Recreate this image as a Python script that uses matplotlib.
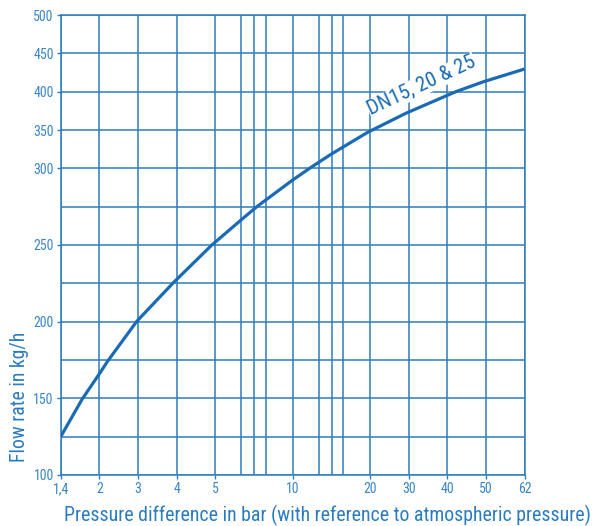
import numpy as np
import matplotlib
matplotlib.use("Agg")
import matplotlib.pyplot as plt
from matplotlib import font_manager as fm
from matplotlib.ticker import FixedLocator, FixedFormatter, NullFormatter

# ---- data ----
pressure = [1.4, 1.735, 2, 2.216, 2.97, 3.917, 4.905, 6.66, 7.68, 8.28, 10, 12.46, 14.9,
            19.7, 29.3, 42.2, 49.3, 62]
flow = [125, 149.6, 166.0, 174.3, 200.3, 225.5, 249.9, 266.3, 275.0, 279.5, 292.4, 301.9,
        318.0, 347.0, 371.9, 400, 412.9, 429.6]
curve_label = "DN15, 20 & 25"

x_tick_values = [1.4, 2, 3, 4, 5, 10, 20, 30, 40, 50, 62]
x_tick_labels = ["1,4", "2", "3", "4", "5", "10", "20", "30", "40", "50", "62"]
x_minor_values = [6.67, 7.5, 8.3, 13.4, 15.1, 16.5]
y_tick_values = [100, 150, 200, 250, 300, 350, 400, 450, 500]
y_tick_labels = [str(v) for v in y_tick_values]
y_minor_values = [125, 175, 225, 275]

x_label = "Pressure difference in bar (with reference to atmospheric pressure)"
y_label = "Flow rate in kg/h"

# scale break-points (the chart's own piecewise axes)
x_scale_vals = [1.4, 2, 3, 4, 5, 10, 20, 30, 40, 50, 62]
x_scale_units = [0, 1, 2, 3, 4, 6, 8, 9, 10, 11, 12]
y_scale_vals = [100, 300, 500]
y_scale_units = [0, 8, 12]

# ---- fonts ----
avail = {f.name for f in fm.fontManager.ttflist}
font = "DejaVu Sans"
for c in ["Roboto Condensed", "Liberation Sans Narrow", "Archivo Narrow"]:
    if c in avail:
        font = c
        break
plt.rcParams["font.family"] = [font, "DejaVu Sans"]

grid_c = "#2d7cc0"
curve_c = "#1a6bb4"
tick_c = "#3a86c8"
label_c = "#2b7bc0"

def fx(x):
    return np.interp(np.asarray(x, float), x_scale_vals, x_scale_units)
def ix(u):
    return np.interp(np.asarray(u, float), x_scale_units, x_scale_vals)
def fy(y):
    return np.interp(np.asarray(y, float), y_scale_vals, y_scale_units)
def iy(u):
    return np.interp(np.asarray(u, float), y_scale_units, y_scale_vals)

fig = plt.figure(figsize=(5.95, 5.26), dpi=100)
ax = fig.add_axes([60.7 / 595, 51 / 526, 464 / 595, 460 / 526])
ax.set_xscale("function", functions=(fx, ix))
ax.set_yscale("function", functions=(fy, iy))
ax.set_xlim(1.4, 62)
ax.set_ylim(100, 500)

ax.xaxis.set_major_locator(FixedLocator(x_tick_values))
ax.xaxis.set_major_formatter(FixedFormatter(x_tick_labels))
ax.xaxis.set_minor_locator(FixedLocator(x_minor_values))
ax.xaxis.set_minor_formatter(NullFormatter())
ax.yaxis.set_major_locator(FixedLocator(y_tick_values))
ax.yaxis.set_major_formatter(FixedFormatter(y_tick_labels))
ax.yaxis.set_minor_locator(FixedLocator(y_minor_values))
ax.yaxis.set_minor_formatter(NullFormatter())

ax.grid(True, which="both", color=grid_c, linewidth=1.1, zorder=1)
ax.set_axisbelow(True)
for s in ax.spines.values():
    s.set_color(grid_c)
    s.set_linewidth(1.1)
ax.tick_params(which="major", length=3, width=1.0, color=grid_c, labelcolor=tick_c,
               labelsize=10, pad=2)
ax.tick_params(which="minor", length=0)

ax.plot(pressure, flow, color=curve_c, linewidth=2.3, zorder=5, solid_capstyle="butt")

t_curve = ax.text(33.4, 408, curve_label, rotation=0, ha="center", va="center",
                  fontsize=14, color=curve_c, zorder=4,
                  bbox=dict(facecolor="white", edgecolor="none", pad=0.3))
t_x = fig.text(327.5 / 595, 1 - 515 / 526, x_label, ha="center", va="center", fontsize=15,
               color=label_c)
t_y = fig.text(20 / 595, 1 - 397 / 526, y_label, ha="center", va="center", rotation=0,
               fontsize=15, color=label_c)

# fit label sizes to the reference's text extents (pixels)
fig.canvas.draw()
r = fig.canvas.get_renderer()
for t, target in [(t_x, 528.0), (t_y, 131.0), (t_curve, 118.0)]:
    w = t.get_window_extent(r).width
    t.set_fontsize(t.get_fontsize() * target / w)
t_y.set_rotation(90)
t_curve.set_rotation(25)
t_curve.set_rotation_mode("anchor")

fig.savefig("out.png", dpi=100)
